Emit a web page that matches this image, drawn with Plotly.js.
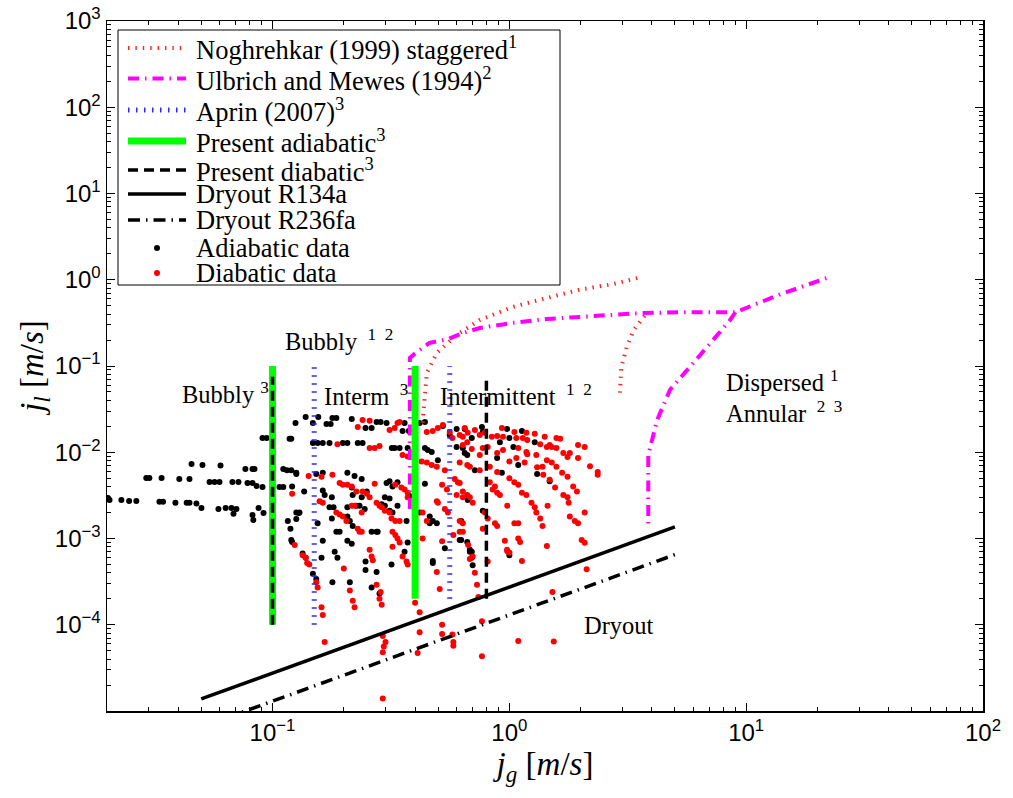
<!DOCTYPE html>
<html>
<head>
<meta charset="utf-8">
<script src="https://cdn.plot.ly/plotly-3.0.1.min.js"></script>
<style>
  html, body { margin: 0; padding: 0; background: #fff; }
  #chart { width: 1013px; height: 798px; }
</style>
</head>
<body>
<div id="chart"></div>
<script>
// Flow pattern map: superficial liquid velocity vs superficial gas velocity

// Transition lines (null separates branches of the same criterion)
const noghrehkarJg = [0.43, 0.448, 0.494, 0.599, 0.75, 1.03, 1.44, 1.99, 2.74, 3.49, null, 2.93, 2.97, 3.13, 3.34, 3.66, 3.75];
const noghrehkarJl = [0.022, 0.083, 0.142, 0.229, 0.341, 0.483, 0.614, 0.77, 0.89, 1.05, null, 0.049, 0.097, 0.166, 0.26, 0.36, 0.39];

const ulbrichJg = [0.38, 0.38, 0.40, 0.46, 0.55, 0.636, 0.75, 1.03, 1.44, 1.99, 3.56, 5.3, 9.0, 14, 23, null, 9.0, 8.55, 6.84, 5.8, 4.77, 4.21, 3.86, 3.86];
const ulbrichJl = [0.0022, 0.124, 0.14, 0.185, 0.205, 0.241, 0.276, 0.316, 0.351, 0.37, 0.41, 0.42, 0.42, 0.68, 1.1, null, 0.42, 0.34, 0.166, 0.097, 0.053, 0.0237, 0.0093, 0.00132];

const aprinJg = [0.15, 0.15, null, 0.56, 0.56];
const aprinJl = [1e-4, 0.1, null, 2e-4, 0.1];

const adiabaticJg = [0.1, 0.1, null, 0.4, 0.4];
const adiabaticJl = [1e-4, 0.1, null, 2e-4, 0.1];

const diabaticJg = [0.1, 0.1, null, 0.8, 0.8];
const diabaticJl = [1e-4, 0.075, null, 2e-4, 0.075];

const dryoutR134aJg = [0.05, 5];
const dryoutR134aJl = [1.38e-5, 1.36e-3];

const dryoutR236faJg = [0.05, 5];
const dryoutR236faJl = [6.5e-6, 6.5e-4];

// Measured points
const adiabaticDataJg = [
  0.0202, 0.0205, 0.0230, 0.0248, 0.0266, 0.0333, 0.0345, 0.0389, 0.0434, 0.0446, 0.0477, 0.0501, 0.0591, 0.0634, 0.0671, 0.0704, 0.0684,
  0.0293, 0.0302, 0.0340, 0.0404, 0.0446, 0.0542, 0.0569, 0.0597, 0.0677, 0.0718, 0.0784, 0.0823, 0.0856, 0.0907, 0.107, 0.111,
  0.0455, 0.0506, 0.0603, 0.0768, 0.0823, 0.0839, 0.111, 0.115, 0.120, 0.126,
  0.0823, 0.0830, 0.0873, 0.0916, 0.116, 0.119, 0.126, 0.129, 0.120, 0.121,
  0.0907, 0.0945, 0.120, 0.125, 0.138, 0.148, 0.156, 0.169, 0.176, 0.179, 0.186, 0.216, 0.247, 0.262, 0.275, 0.286, 0.303, 0.361, 0.354, 0.376,
  0.418, 0.440, 0.524, 0.560, 0.599, 0.648, 0.766, 0.772, 0.978, 1.13, 1.00, 0.912, 1.04, 1.28, 0.694, 0.648, 0.888, 1.09, 0.93, 1.31, 1.48, 0.715,
  0.667, 0.772, 0.617, 0.694,
  0.118, 0.148, 0.155, 0.163, 0.174, 0.198, 0.207, 0.229, 0.240, 0.319, 0.328, 0.344, 0.372, 0.440, 0.452, 0.470, 0.499, 0.599, 0.636, 0.664,
  0.126, 0.153, 0.163, 0.207, 0.222, 0.238, 0.303, 0.312, 0.321, 0.337, 0.121, 0.136, 0.163, 0.166, 0.178, 0.216, 0.218, 0.238, 0.250, 0.298,
  0.312, 0.379, 0.440, 0.126, 0.130, 0.174, 0.181, 0.207, 0.226, 0.233, 0.245, 0.289, 0.298, 0.312, 0.321, 0.337, 0.368, 0.178, 0.207, 0.212,
  0.218, 0.275, 0.262, 0.186, 0.163, 0.207, 0.216, 0.372, 0.461, 0.475, 0.494, 0.534, 0.626, 0.664, 0.626,
  0.134, 0.138, 0.161, 0.183, 0.188, 0.148, 0.153, 0.179, 0.212, 0.247, 0.247, 0.275, 0.262, 0.283, 0.318, 0.361, 0.475, 0.681, 0.155, 0.192,
  0.278, 0.418, 0.461, 0.475, 0.681, 0.694, 0.70, 1.00
];
const adiabaticDataJl = [
  0.00295, 0.00279, 0.00279, 0.00272, 0.00272, 0.00266, 0.00266, 0.0026, 0.0026, 0.0026, 0.00254, 0.00225, 0.0022, 0.00225, 0.00225, 0.0022, 0.00194,
  0.00502, 0.00502, 0.00502, 0.0049, 0.0049, 0.00452, 0.00452, 0.00452, 0.00452, 0.00452, 0.0044, 0.0044, 0.00406, 0.00395, 0.00395, 0.00395,
  0.0073, 0.0071, 0.0070, 0.0064, 0.0064, 0.0064, 0.0064, 0.0062, 0.0062, 0.0058,
  0.00187, 0.00164, 0.00225, 0.00197, 0.0016, 0.0013, 0.00168, 0.00197, 0.00096, 0.00091,
  0.0146, 0.0146, 0.0143, 0.0218, 0.0257, 0.0218, 0.0257, 0.0213, 0.0213, 0.0250, 0.0250, 0.0243, 0.0191, 0.0191, 0.0224, 0.0224, 0.0218, 0.0218, 0.0176, 0.0176,
  0.0218, 0.0224, 0.0201, 0.0158, 0.0186, 0.0186, 0.0196, 0.0172, 0.0186, 0.0176, 0.0146, 0.0131, 0.0115, 0.0131, 0.0146, 0.0098, 0.0086, 0.0071, 0.0058, 0.0056, 0.0046, 0.0062,
  0.0028, 0.0021, 0.00096, 0.0007,
  0.0143, 0.0128, 0.0128, 0.0128, 0.0128, 0.0128, 0.0128, 0.0128, 0.0128, 0.0112, 0.0112, 0.0112, 0.0112, 0.0112, 0.0106, 0.0101, 0.0081, 0.0115, 0.0112, 0.0093,
  0.0056, 0.0056, 0.0058, 0.0058, 0.0053, 0.0049, 0.0044, 0.0046, 0.0040, 0.0045, 0.0040, 0.0035, 0.0036, 0.0032, 0.0030, 0.0039, 0.0032, 0.0030, 0.0035, 0.0030,
  0.0029, 0.0031, 0.0043, 0.0020, 0.0020, 0.0023, 0.0023, 0.0023, 0.0024, 0.0024, 0.0022, 0.0025, 0.0024, 0.0021, 0.0020, 0.0024, 0.0016, 0.0017, 0.0018, 0.0016,
  0.0014, 0.0012, 0.0012, 0.0012, 0.00094, 0.00094, 0.00087, 0.00090, 0.0018, 0.0016, 0.0015, 0.00077, 0.00096, 0.00091, 0.0016,
  0.00067, 0.0006, 0.0006, 0.0007, 0.0006, 0.00039, 0.00034, 0.00031, 0.00031, 0.00054, 0.00043, 0.00041, 0.00027, 0.00023, 0.0005, 0.0007, 0.00052, 0.0007, 0.0015, 0.0012,
  0.0012, 0.0020, 0.0015, 0.00055, 0.00074, 0.0006, 0.00049, 0.00064
];

const diabaticDataJg = [
  0.240, 0.257, 0.229, 0.312, 0.328, 0.337, 0.344, 0.448, 0.475, 0.499, 0.524, 0.560, 0.575, 0.617, 0.636, 0.664,
  0.648, 0.667, 0.715, 0.750, 0.788, 0.843, 0.888, 0.93, 0.94, 1.05, 1.07, 1.14, 1.18, 1.19, 1.28, 1.41, 1.48, 1.58, 1.64, 1.35, 1.44, 1.51, 1.58, 1.69,
  1.76, 1.80, 1.95, 2.08, 1.95, 2.19, 2.36, 2.36,
  0.636, 0.694, 0.750, 0.772, 0.81, 0.888, 0.94, 1.09, 1.18, 1.19, 1.07, 1.16, 1.30, 1.38, 1.44, 1.51, 1.58, 1.67, 1.76,
  0.617, 0.664, 0.681, 0.750, 0.827, 0.888, 1.00, 1.00, 1.05, 1.09, 1.13, 1.18, 1.24, 1.28, 1.30, 1.35, 1.38, 1.31, 1.39, 1.48, 1.56, 1.69, 1.76, 1.78,
  1.86, 1.93, 1.45, 1.09, 0.85, 0.888, 0.912, 0.98, 0.827, 0.869, 0.617, 0.636, 0.664, 0.681, 0.70, 0.788, 0.81, 0.869, 0.888, 0.772, 0.617, 0.957,
  1.09, 1.11, 1.44, 1.80, 1.89, 1.95, 2.08, 2.02, 2.08, 0.978, 1.00,
  0.142, 0.161, 0.179, 0.192, 0.198, 0.207, 0.216, 0.226, 0.240, 0.250, 0.257, 0.270, 0.33, 0.35, 0.361, 0.372, 0.372, 0.121, 0.158, 0.163, 0.186,
  0.192, 0.198, 0.205, 0.216, 0.222, 0.238, 0.275, 0.283, 0.289, 0.298, 0.312, 0.318, 0.33, 0.344, 0.229, 0.233, 0.238, 0.321, 0.33, 0.337, 0.43,
  0.448, 0.43, 0.494, 0.499, 0.534, 0.55, 0.52, 0.545, 0.588, 0.606, 0.599, 0.636, 0.617, 0.636, 0.636, 0.58, 0.67, 0.257, 0.52,
  0.188, 0.257, 0.270, 0.283, 0.354, 0.372, 0.426, 0.448, 0.470, 0.494, 0.534,
  0.134, 0.138, 0.143, 0.124, 0.140, 0.153, 0.155, 0.161, 0.163, 0.166, 0.20, 0.212, 0.218, 0.222, 0.262, 0.265, 0.275, 0.286, 0.283, 0.289, 0.354,
  0.368, 0.372, 0.321, 0.344, 0.40, 0.418, 0.292, 0.30, 0.295, 0.292, 0.418, 0.41, 0.292, 0.494, 0.508, 0.52, 0.52, 0.575, 0.58, 0.58,
  0.681, 0.70, 0.715, 0.73, 0.74, 0.766, 0.766, 0.81, 0.98, 1.13, 1.09, 1.52, 1.54, 2.12, 1.05
];
const diabaticDataJl = [
  0.0237, 0.0232, 0.0196, 0.0181, 0.0191, 0.0218, 0.0224, 0.0172, 0.0176, 0.0191, 0.0207, 0.0172, 0.0146, 0.0158, 0.0151, 0.0131,
  0.0191, 0.0168, 0.0181, 0.0158, 0.0168, 0.0151, 0.0154, 0.0191, 0.0151, 0.0172, 0.0146, 0.0146, 0.0168, 0.0139, 0.0164, 0.0151, 0.0121, 0.0146, 0.0143, 0.0124, 0.0115, 0.0115, 0.0112, 0.0098,
  0.0088, 0.0098, 0.0121, 0.0115, 0.0086, 0.0069, 0.0059, 0.0055,
  0.0121, 0.0109, 0.0093, 0.0112, 0.0115, 0.0098, 0.0106, 0.0112, 0.0101, 0.0095, 0.0086, 0.0076, 0.0093, 0.0068, 0.0081, 0.0076, 0.0068, 0.0058, 0.0052,
  0.0076, 0.0071, 0.0068, 0.0062, 0.0068, 0.0059, 0.0078, 0.0050, 0.0045, 0.0042, 0.0034, 0.0032, 0.0026, 0.0023, 0.0020, 0.0017, 0.0014, 0.0067, 0.0055, 0.0048, 0.0039, 0.0032, 0.0030, 0.0026,
  0.0040, 0.0035, 0.0024, 0.0015, 0.0037, 0.0034, 0.0032, 0.0024, 0.0045, 0.0040, 0.0044, 0.0035, 0.0032, 0.0030, 0.0026, 0.0020, 0.0017, 0.0015, 0.0014, 0.0013, 0.0012, 0.00094,
  0.0010, 0.00091, 0.00082, 0.0018, 0.0016, 0.0015, 0.0020, 0.00096, 0.00089, 0.00074, 0.00069,
  0.0053, 0.0052, 0.0055, 0.0044, 0.0042, 0.0042, 0.0040, 0.0035, 0.0035, 0.0033, 0.0030, 0.0043, 0.0042, 0.0039, 0.0037, 0.0034, 0.0030, 0.0033, 0.0027, 0.0026, 0.0020,
  0.0019, 0.0018, 0.0016, 0.0024, 0.0024, 0.0020, 0.0026, 0.0024, 0.0023, 0.0021, 0.0020, 0.0017, 0.0016, 0.0016, 0.0013, 0.0012, 0.0012, 0.0012, 0.0011, 0.0010, 0.0010,
  0.0016, 0.0020, 0.0027, 0.0026, 0.0022, 0.0020, 0.0042, 0.0037, 0.0049, 0.0045, 0.0032, 0.0030, 0.0016, 0.0015, 0.0012, 0.0011, 0.00084, 0.00074, 0.00093,
  0.0124, 0.0112, 0.0112, 0.0118, 0.0093, 0.0089, 0.0078, 0.0076, 0.0071, 0.0068, 0.0062,
  0.00064, 0.0006, 0.0005, 0.00084, 0.00052, 0.00031, 0.00027, 0.00016, 0.00013, 0.000063, 0.00045, 0.00025, 0.00019, 0.00016, 0.00062, 0.00056, 0.00029, 0.00024, 0.00020, 0.00017, 0.00062,
  0.00054, 0.0005, 0.0008, 0.0009, 0.00018, 0.00014, 0.000074, 0.000063, 0.000056, 0.000048, 0.000082, 0.000047, 0.000014, 0.00041, 0.00026, 0.00010, 0.000078, 0.000077, 0.000063, 0.000057,
  0.00058, 0.00062, 0.0004, 0.00029, 0.00021, 0.00011, 0.000043, 0.00054, 0.00071, 0.00055, 0.000065, 0.00024, 0.000064, 0.00044, 0.0015
];

// Axis decoration
const xTickVals = [0.1, 1, 10, 100];
const xTickText = ['10<sup>\u22121</sup>', '10<sup>0</sup>', '10<sup>1</sup>', '10<sup>2</sup>'];
const yTickVals = [1e-4, 1e-3, 1e-2, 1e-1, 1, 10, 100, 1000];
const yTickText = ['10<sup>\u22124</sup>', '10<sup>\u22123</sup>', '10<sup>\u22122</sup>', '10<sup>\u22121</sup>',
                   '10<sup>0</sup>', '10<sup>1</sup>', '10<sup>2</sup>', '10<sup>3</sup>'];

function minorTicks(d0, d1) {
  const out = [];
  for (let d = d0; d <= d1; d++) {
    for (let m = 2; m <= 9; m++) out.push(m * Math.pow(10, d));
  }
  return out;
}

const serif = 'Liberation Serif';
const sans = 'Liberation Sans';
const NB = '\u00a0';

// Line / marker styles shared by the traces and the key box
const styles = {
  noghrehkar: { color: '#ff2020', width: 4, dash: '1.4px,6px' },
  ulbrich:    { color: '#ff00ff', width: 4, dash: '11px,6px,1.5px,6px' },
  aprin:      { color: '#2a2aff', width: 5, dash: '1.5px,6.5px' },
  adiabatic:  { color: '#00ff00', width: 7, dash: 'solid' },
  diabatic:   { color: '#000000', width: 3.5, dash: '10px,6px' },
  r134a:      { color: '#000000', width: 3.5, dash: 'solid' },
  r236fa:     { color: '#000000', width: 3.5, dash: '12px,6px,1.5px,6px' }
};
const dotColors = { adiabatic: '#000000', diabatic: '#ff0000' };

const traces = [
  { x: adiabaticDataJg, y: adiabaticDataJl, name: 'Adiabatic data', type: 'scatter', mode: 'markers',
    marker: { color: dotColors.adiabatic, size: 6 } },
  { x: diabaticDataJg, y: diabaticDataJl, name: 'Diabatic data', type: 'scatter', mode: 'markers',
    marker: { color: dotColors.diabatic, size: 6 } },
  { x: noghrehkarJg, y: noghrehkarJl, name: 'Noghrehkar (1999) staggered', type: 'scatter', mode: 'lines',
    line: styles.noghrehkar, connectgaps: false },
  { x: ulbrichJg, y: ulbrichJl, name: 'Ulbrich and Mewes (1994)', type: 'scatter', mode: 'lines',
    line: styles.ulbrich, connectgaps: false },
  { x: aprinJg, y: aprinJl, name: 'Aprin (2007)', type: 'scatter', mode: 'lines',
    line: styles.aprin, connectgaps: false },
  { x: adiabaticJg, y: adiabaticJl, name: 'Present adiabatic', type: 'scatter', mode: 'lines',
    line: styles.adiabatic, connectgaps: false },
  { x: diabaticJg, y: diabaticJl, name: 'Present diabatic', type: 'scatter', mode: 'lines',
    line: styles.diabatic, connectgaps: false },
  { x: dryoutR134aJg, y: dryoutR134aJl, name: 'Dryout R134a', type: 'scatter', mode: 'lines',
    line: styles.r134a },
  { x: dryoutR236faJg, y: dryoutR236faJl, name: 'Dryout R236fa', type: 'scatter', mode: 'lines',
    line: styles.r236fa }
];

// Plot box in page pixels
const L = 107, R = 983, T = 21, B = 711;
const px = v => (v - L) / (R - L);
const py = v => (B - v) / (B - T);

function label(text, x, y) {
  return { text: text, xref: 'paper', yref: 'paper', x: px(x), y: py(y),
           xanchor: 'left', yanchor: 'middle', showarrow: false,
           font: { family: serif, size: 24.5, color: '#000' } };
}

// Key box: entries in the same order as the criteria are listed
const keyEntries = [
  { text: 'Noghrehkar (1999) staggered<sup>1</sup>', line: styles.noghrehkar, row: 48 },
  { text: 'Ulbrich and Mewes (1994)<sup>2</sup>', line: styles.ulbrich, row: 78.5 },
  { text: 'Aprin (2007)<sup>3</sup>', line: styles.aprin, row: 110 },
  { text: 'Present adiabatic<sup>3</sup>', line: styles.adiabatic, row: 141 },
  { text: 'Present diabatic<sup>3</sup>', line: styles.diabatic, row: 170 },
  { text: 'Dryout R134a', line: styles.r134a, row: 194 },
  { text: 'Dryout R236fa', line: styles.r236fa, row: 220 },
  { text: 'Adiabatic data', dot: dotColors.adiabatic, row: 248 },
  { text: 'Diabatic data', dot: dotColors.diabatic, row: 273 }
];

const keyShapes = [{
  type: 'rect', xref: 'paper', yref: 'paper', layer: 'above',
  x0: px(118), x1: px(560), y0: py(285), y1: py(30),
  line: { color: '#000', width: 1 }, fillcolor: '#ffffff'
}];
const keyTexts = [];
keyEntries.forEach(e => {
  if (e.line) {
    keyShapes.push({ type: 'line', xref: 'paper', yref: 'paper', layer: 'above',
      x0: px(128), x1: px(186), y0: py(e.row), y1: py(e.row),
      line: { color: e.line.color, width: e.line.width, dash: e.line.dash } });
  } else {
    keyShapes.push({ type: 'circle', xref: 'paper', yref: 'paper', layer: 'above',
      x0: px(154), x1: px(160), y0: py(e.row + 3), y1: py(e.row - 3),
      line: { width: 0 }, fillcolor: e.dot });
  }
  keyTexts.push({ text: e.text, xref: 'paper', yref: 'paper', x: px(194), y: py(e.row),
    xanchor: 'left', yanchor: 'middle', showarrow: false,
    font: { family: serif, size: 26.5, color: '#000' } });
});

const layout = {
  width: 1013, height: 798,
  margin: { l: L, r: 1013 - R, t: T, b: 798 - B },
  paper_bgcolor: '#ffffff', plot_bgcolor: '#ffffff',
  showlegend: false,
  xaxis: {
    type: 'log', range: [Math.log10(0.02), 2], autorange: false,
    tickmode: 'array', tickvals: xTickVals, ticktext: xTickText,
    ticks: 'inside', ticklen: 8, tickwidth: 1, tickcolor: '#000',
    minor: { tickmode: 'array', tickvals: minorTicks(-2, 1), ticks: 'inside', ticklen: 4, tickcolor: '#000', showgrid: false },
    showline: true, linecolor: '#000', linewidth: 1.5, mirror: 'allticks',
    showgrid: false, zeroline: false,
    tickfont: { family: sans, size: 24, color: '#000' },
    title: { text: '<i>j</i><sub><i>g</i></sub>' + NB + '[<i>m</i>/<i>s</i>]', font: { family: serif, size: 33, color: '#000' }, standoff: 6 }
  },
  yaxis: {
    type: 'log', range: [-5, 3], autorange: false,
    tickmode: 'array', tickvals: yTickVals, ticktext: yTickText,
    ticks: 'inside', ticklen: 8, tickwidth: 1, tickcolor: '#000',
    minor: { tickmode: 'array', tickvals: minorTicks(-5, 2), ticks: 'inside', ticklen: 4, tickcolor: '#000', showgrid: false },
    showline: true, linecolor: '#000', linewidth: 1.5, mirror: 'allticks',
    showgrid: false, zeroline: false,
    tickfont: { family: sans, size: 24, color: '#000' },
    title: { text: '<i>j</i><sub><i>l</i></sub>' + NB + '[<i>m</i>/<i>s</i>]', font: { family: serif, size: 33, color: '#000' }, standoff: 0 }
  },
  shapes: keyShapes,
  annotations: [
    label('Bubbly' + NB + '<sup>3</sup>', 180, 393),
    label('Bubbly' + NB + '<sup>' + NB + '1' + NB + NB + '2</sup>', 283, 340),
    label('Interm' + NB + '<sup>' + NB + '3</sup>', 322, 395),
    label('Intermittent' + NB + '<sup>' + NB + '1' + NB + NB + '2</sup>', 438, 395),
    label('Dispersed' + NB + '<sup>1</sup>', 724, 381),
    label('Annular' + NB + '<sup>' + NB + '2' + NB + NB + '3</sup>', 724, 412),
    label('Dryout', 582, 625)
  ].concat(keyTexts)
};

Plotly.newPlot('chart', traces, layout, { staticPlot: true, displayModeBar: false });
</script>
</body>
</html>
